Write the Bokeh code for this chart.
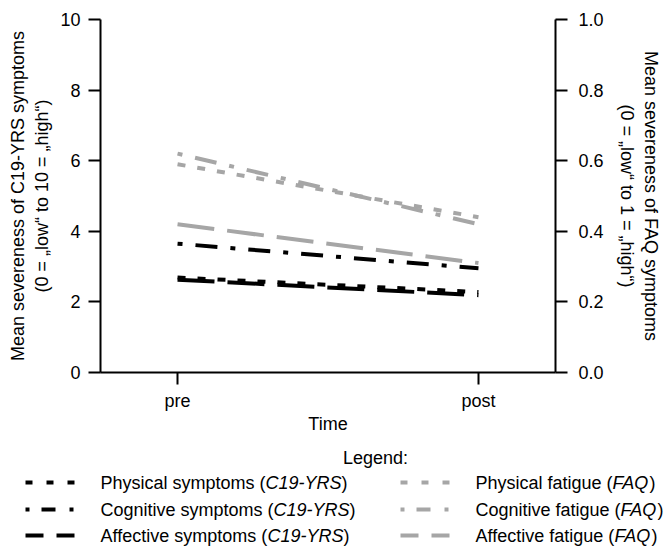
import math
from bokeh.plotting import figure
from bokeh.layouts import column, row
from bokeh.models import Range1d, LinearAxis, FixedTicker, Label, NumeralTickFormatter
from bokeh.embed import file_html
from bokeh.resources import INLINE

# ---------------- data ----------------
time_points = [0, 1]
time_labels = ["pre", "post"]
# C19-YRS (left axis, 0-10)
physical_symptoms = [2.69, 2.28]
cognitive_symptoms = [3.65, 2.95]
affective_symptoms = [2.63, 2.19]
# FAQ (right axis, 0-1)
physical_fatigue = [0.59, 0.44]
cognitive_fatigue = [0.62, 0.42]
affective_fatigue = [0.42, 0.31]
left_ticks = [0, 2, 4, 6, 8, 10]
right_ticks = [0.0, 0.2, 0.4, 0.6, 0.8, 1.0]
left_title = "Mean severeness of C19-YRS symptoms\n(0 = \u201elow\u201c to 10 = \u201ehigh\u201c)"
right_title = "Mean severeness of FAQ symptoms\n(0 = \u201elow\u201c to 1 = \u201ehigh\u201c)"

BLACK = "#000000"
GRAY = "#a6a6a6"
FONT = "Liberation Sans"
FS = 18

DASH_PHYS = "8 12"
DASH_COG = "5 13 22 13"
DASH_AFF = "37 13"

# ---------------- layout geometry (canvas pixels) ----------------
W, H = 666, 547
TOP_H = 440
FL, FR, FT, FB = 100, 555, 19, 372   # frame edges on page
X0, X1 = -0.256, 1.256

# ---------------- main chart ----------------
p = figure(width=W, height=TOP_H, x_range=Range1d(X0, X1), y_range=Range1d(0, 10),
           output_backend="svg", toolbar_location=None,
           min_border_left=FL, min_border_right=W - FR,
           min_border_top=FT, min_border_bottom=TOP_H - FB)
p.outline_line_color = None
p.grid.visible = False
p.background_fill_color = "white"
p.border_fill_color = "white"
p.extra_y_ranges = {"faq": Range1d(0, 1)}

right_axis = LinearAxis(y_range_name="faq")
p.add_layout(right_axis, "right")

for ax in [p.xaxis[0], p.yaxis[0], right_axis]:
    ax.axis_line_width = 2
    ax.axis_line_color = BLACK
    ax.major_tick_line_width = 2
    ax.major_tick_line_color = BLACK
    ax.major_tick_out = 12
    ax.major_tick_in = 0
    ax.minor_tick_out = 0
    ax.minor_tick_in = 0
    ax.major_label_text_font = FONT
    ax.major_label_text_font_size = f"{FS}px"
    ax.major_label_text_color = BLACK
    ax.axis_label_text_font = FONT
    ax.axis_label_text_font_size = f"{FS}px"
    ax.axis_label_text_font_style = "normal"
    ax.axis_label_text_color = BLACK

p.yaxis[0].ticker = FixedTicker(ticks=left_ticks)
p.yaxis[0].formatter = NumeralTickFormatter(format="0")
p.yaxis[0].major_label_standoff = 8
p.yaxis[0].axis_label = left_title
p.yaxis[0].axis_label_standoff = 5
right_axis.ticker = FixedTicker(ticks=right_ticks)
right_axis.formatter = NumeralTickFormatter(format="0.0")
right_axis.major_label_standoff = 11
right_axis.axis_label = right_title
right_axis.axis_label_standoff = 10

xa = p.xaxis[0]
xa.ticker = FixedTicker(ticks=time_points)
xa.major_label_overrides = {t: l for t, l in zip(time_points, time_labels)}
xa.major_label_standoff = 6
xa.axis_label = "Time"
xa.axis_label_standoff = 0

p.line(time_points, physical_symptoms, line_color=BLACK, line_width=4, line_dash=DASH_PHYS)
p.line(time_points, cognitive_symptoms, line_color=BLACK, line_width=4, line_dash=DASH_COG)
p.line(time_points, affective_symptoms, line_color=BLACK, line_width=4, line_dash=DASH_AFF)
p.line(time_points, physical_fatigue, line_color=GRAY, line_width=4, line_dash=DASH_PHYS, y_range_name="faq")
p.line(time_points, cognitive_fatigue, line_color=GRAY, line_width=4, line_dash=DASH_COG, y_range_name="faq")
p.line(time_points, affective_fatigue, line_color=GRAY, line_width=4, line_dash=DASH_AFF, y_range_name="faq")

# ---------------- legend panel (own pixel-like coordinates) ----------------
legend_fig = figure(width=W, height=H - TOP_H, x_range=Range1d(0, W), y_range=Range1d(H, TOP_H),
                    output_backend="svg", toolbar_location=None, x_axis_type=None, y_axis_type=None,
                    min_border=0, min_border_left=0, min_border_right=0, min_border_top=0,
                    min_border_bottom=0)
legend_fig.outline_line_color = None
legend_fig.grid.visible = False
legend_fig.background_fill_color = "white"
legend_fig.border_fill_color = "white"

AW = {' ': 278, '(': 333, ')': 333, '-': 333, '=': 584, ':': 278,
      'A': 667, 'C': 722, 'F': 611, 'L': 556, 'M': 833, 'P': 667, 'Q': 778, 'R': 722, 'S': 667,
      'T': 611, 'Y': 667, 'a': 556, 'b': 556, 'c': 500, 'd': 556, 'e': 556, 'f': 278, 'g': 556,
      'h': 556, 'i': 222, 'k': 500, 'l': 222, 'm': 833, 'n': 556, 'o': 556, 'p': 556, 'r': 333,
      's': 500, 't': 278, 'u': 556, 'v': 500, 'w': 722, 'y': 500}


def tw(s, size):
    return sum(AW.get(c, 556) for c in s) * size / 1000.0


def rich(fig, pieces, x, y, size=FS, anchor="left"):
    total = sum(tw(t, size) for t, _ in pieces)
    if anchor == "center":
        x -= total / 2
    off = 0.0
    for t, it in pieces:
        fig.add_layout(Label(x=x + off, y=y, text=t, text_align="left", text_baseline="middle",
                             text_font=FONT, text_font_size=f"{size}px", text_color=BLACK,
                             text_font_style="italic" if it else "normal"))
        off += tw(t, size)


rich(legend_fig, [("Legend:", False)], 375, 457, anchor="center")
legend_rows = [482, 509, 535]
left_items = [("Physical symptoms (", "C19-YRS", DASH_PHYS), ("Cognitive symptoms (", "C19-YRS", DASH_COG),
              ("Affective symptoms (", "C19-YRS", DASH_AFF)]
right_items = [("Physical fatigue (", "FAQ", DASH_PHYS), ("Cognitive fatigue (", "FAQ", DASH_COG),
               ("Affective fatigue (", "FAQ", DASH_AFF)]
legend_dash = {DASH_PHYS: "7 14", DASH_COG: "4 12 14 14", DASH_AFF: "18 13"}
for items, color, xs0, xs1, xt in [(left_items, BLACK, 25, 80, 100), (right_items, GRAY, 400, 454, 475)]:
    for (a, b, dash), ry in zip(items, legend_rows):
        legend_fig.line([xs0, xs1], [ry, ry], line_color=color, line_width=4, line_dash=legend_dash[dash])
        rich(legend_fig, [(a, False), (b, True), (")", False)], xt, ry)

# wrap the chart in a row so that the column does not align the two frames
layout = column(row(p, spacing=0), legend_fig, spacing=0)
open("out.html", "w").write(file_html(layout, INLINE))
